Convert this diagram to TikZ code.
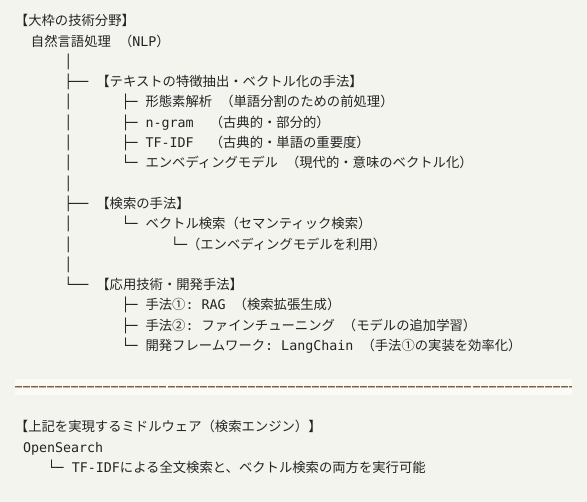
\documentclass[tikz,border=0pt]{standalone}
\usepackage{fontspec}
\newfontfamily\jp{Noto Sans CJK JP}
\newfontfamily\mono{DejaVu Sans Mono}
\definecolor{bg}{HTML}{F4F4EF}
\definecolor{band}{HTML}{FAFAF7}
\definecolor{ink}{HTML}{242424}
\definecolor{sepdark}{HTML}{7A5E3E}
\definecolor{seplight}{HTML}{C9B692}
\begin{document}
\begin{tikzpicture}[x=0.75pt,y=-0.75pt,
  t/.style={inner sep=0pt, outer sep=0pt, anchor=base west, text=ink,
            font=\fontsize{10pt}{12pt}\selectfont\jp},
  sepline/.style={line width=#1, dash pattern=on 5.25pt off 0.77pt}]
\fill[bg] (0,0) rectangle (587,502);
\useasboundingbox (0,0) rectangle (587,502);

% header
\node[t] (h0) at (15,25.8) {【大枠の技術分野】};
\node[t] (h1) at (31,46.1) {自然言語処理{\mono\ }（{\mono NLP}）};

% trunk vertical bars
\foreach \i/\yy in {2/66.4,4/107.0,5/127.3,6/147.6,7/167.9,8/188.2,10/228.8,11/249.1,12/269.4}
  \node[t] (v\i) at (64.3,\yy) {\mono │};

% branch 1
\node[t] (b1) at (64.3,86.7) {{\mono ├──\ }【テキストの特徴抽出・ベクトル化の手法】};
\node[t] (b1a) at (121.5,107.0) {{\mono ├─\ }形態素解析{\mono\ }（単語分割のための前処理）};
\node[t] (b1b) at (121.5,127.3) {{\mono ├─\ n-gram\ \ }（古典的・部分的）};
\node[t] (b1c) at (121.5,147.6) {{\mono ├─\ TF-IDF\ \ }（古典的・単語の重要度）};
\node[t] (b1d) at (121.5,167.9) {{\mono └─\ }エンベディングモデル{\mono\ }（現代的・意味のベクトル化）};

% branch 2
\node[t] (b2) at (64.3,208.5) {{\mono ├──\ }【検索の手法】};
\node[t] (b2a) at (121.5,228.8) {{\mono └─\ }ベクトル検索（セマンティック検索）};
\node[t] (b2b) at (171,249.1) {{\mono └─}（エンベディングモデルを利用）};

% branch 3
\node[t] (b3) at (64.3,289.7) {{\mono └──\ }【応用技術・開発手法】};
\node[t] (b3a) at (121.5,310.0) {{\mono ├─\ }手法①{\mono :\ RAG\ }（検索拡張生成）};
\node[t] (b3b) at (121.5,330.3) {{\mono ├─\ }手法②{\mono :\ }ファインチューニング{\mono\ }（モデルの追加学習）};
\node[t] (b3c) at (121.5,350.6) {{\mono └─\ }開発フレームワーク{\mono :\ LangChain\ }（手法①の実装を効率化）};

% separator
\fill[band] (15,379) rectangle (572,395);
\draw[sepline=0.9pt, sepdark] (15,386.7) -- (572,386.7);
\draw[sepline=0.75pt, seplight] (15,387.9) -- (572,387.9);

% middleware
\node[t] (m0) at (15,431.8) {【上記を実現するミドルウェア（検索エンジン）】};
\node[t] (m1) at (23,452.1) {{\mono OpenSearch}};
\node[t] (m2) at (47.7,472.4) {{\mono └─\ TF-IDF}による全文検索と、ベクトル検索の両方を実行可能};
\end{tikzpicture}
\end{document}
